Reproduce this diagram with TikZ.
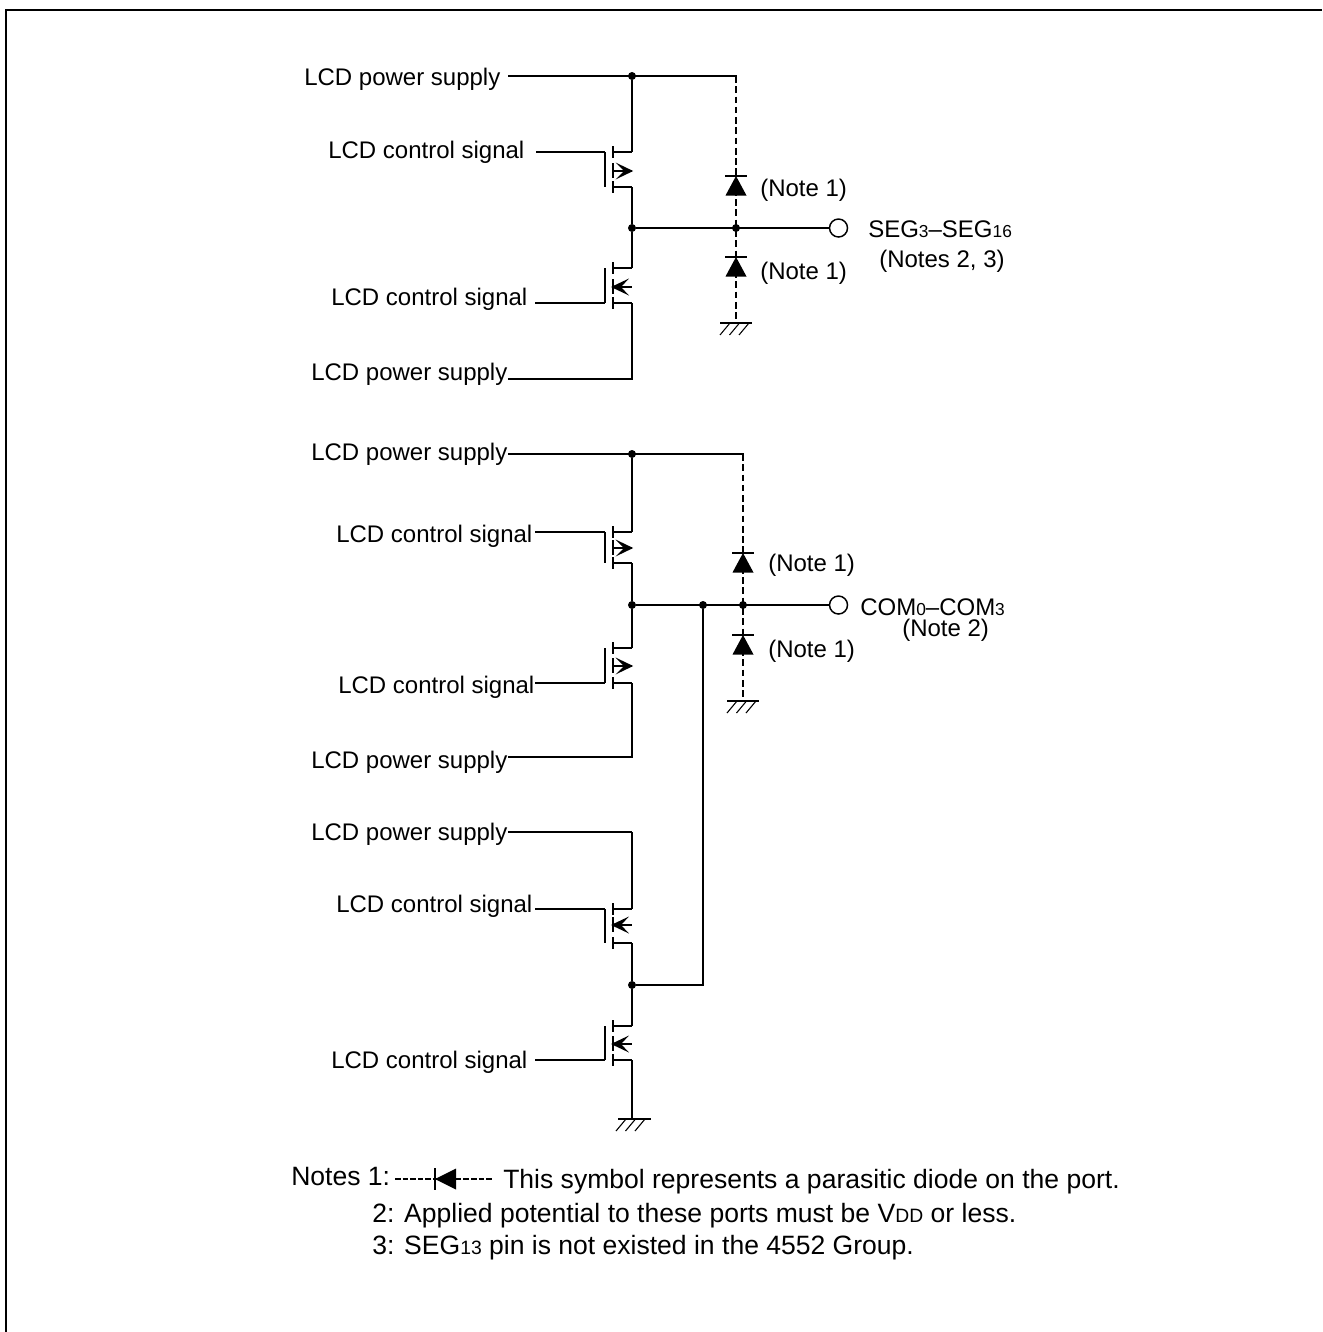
\documentclass[tikz,border=0pt]{standalone}
\usepackage{fontspec}
\setmainfont{Liberation Sans}
\newcommand{\smsub}[1]{{\fontsize{13pt}{15pt}\selectfont #1}}
\newcommand{\smnote}[1]{{\fontsize{14.5pt}{16pt}\selectfont #1}}
\tikzset{
  x=0.75pt,y=-0.75pt,
  wire/.style={line width=1.45pt,line cap=butt},
  dwire/.style={line width=1.2pt,dash pattern=on 5pt off 2.7pt},
  lbl/.style={inner sep=0pt,anchor=west,font=\fontsize{18pt}{21pt}\selectfont,text=black},
  note/.style={inner sep=0pt,anchor=base west,font=\fontsize{19.9pt}{23pt}\selectfont,text=black},
  junction/.style={circle,fill=black,inner sep=0pt,minimum size=6pt},
  pad/.style={circle,draw=black,fill=white,line width=1.1pt,inner sep=0pt,minimum size=13.5pt},
  frame/.style={line width=2.1pt}
}
\newcommand{\fet}[9]{
  \coordinate (#1g) at (#9,#2);
  \coordinate (#1gc) at (605,#2);
  \coordinate (#1bt) at (605,#6);
  \coordinate (#1bb) at (605,#7);
  \coordinate (#1d) at (632,#3);
  \coordinate (#1s) at (632,#5);
  \coordinate (#1m) at (632,#4);
  \draw[wire] (#1g) -- (#1gc);
  \draw[wire] (#1bt) -- (#1bb);
  \draw[wire] (613,#3-6) -- (613,#3+6);
  \draw[wire] (613,#4-8) -- (613,#4+7);
  \draw[wire] (613,#5-6) -- (613,#5+6);
  \draw[wire] (613,#3) -- (#1d);
  \draw[wire] (613,#5) -- (#1s);
  \draw[wire] (613,#4) -- (#1m);
  \ifx l#8
    \fill[black] (611,#4) -- (629,#4-8.5) -- (621,#4) -- (629,#4+8.5) -- cycle;
  \else
    \fill[black] (633.2,#4) -- (615.5,#4-8.5) -- (624,#4) -- (615.5,#4+8.5) -- cycle;
  \fi
}
\newcommand{\diodeup}[2]{
  \fill[black] (#1,#2) -- (#1-10.5,#2+19.5) -- (#1+10.5,#2+19.5) -- cycle;
  \draw[wire] (#1-11,#2) -- (#1+11,#2);
}
\newcommand{\gnd}[4]{
  \draw[wire] (#3,#2) -- (#4,#2);
  \draw[line width=0.8pt] (#1-6,#2) -- (#1-16,#2+12);
  \draw[line width=0.8pt] (#1+3.5,#2) -- (#1-6.5,#2+12);
  \draw[line width=0.8pt] (#1+13,#2) -- (#1+3,#2+12);
}
\begin{document}
\begin{tikzpicture}
\useasboundingbox (0,0) rectangle (1322,1332);
\draw[frame] (6,1332) -- (6,10) -- (1322,10);

% ===== labels
\node[lbl] (l1) at (304,79.5) {LCD power supply};
\node[lbl] (l2) at (328,152) {LCD control signal};
\node[lbl] (l3) at (331,299.5) {LCD control signal};
\node[lbl] (l4) at (311,374.5) {LCD power supply};
\node[lbl] (l5) at (311,454.5) {LCD power supply};
\node[lbl] (l6) at (336,536.5) {LCD control signal};
\node[lbl] (l7) at (338,687.5) {LCD control signal};
\node[lbl] (l8) at (311,762.5) {LCD power supply};
\node[lbl] (l9) at (311,834.5) {LCD power supply};
\node[lbl] (l10) at (336,906.5) {LCD control signal};
\node[lbl] (l11) at (331,1062.5) {LCD control signal};

% ===== upper section
\coordinate (a0) at (508,76);
\node[junction] (aj) at (632,76) {};
\coordinate (ar) at (737,76);
\coordinate (ad) at (736,76);
\node[junction] (am) at (632,228) {};
\node[junction] (ak) at (736,228) {};
\node[pad] (ap) at (838.5,228) {};
\coordinate (ag) at (736,323);
\coordinate (ab) at (632,379);
\coordinate (ab0) at (508,379);
\draw[wire] (a0) -- (ar);
\fet{t}{152}{152}{171}{187}{152}{187}{r}{536}
\draw[wire] (aj) -- (td);
\draw[wire] (ts) -- (am);
\draw[wire] (am) -- (ap);
\fet{u}{303}{268}{287}{303}{268}{303}{l}{535}
\draw[wire] (am) -- (ud);
\draw[wire] (us) -- (ab) -- (ab0);
\draw[dwire] (ad) -- (ag);
\diodeup{736}{176}
\diodeup{736}{257}
\gnd{736}{323}{720}{752}
\node[lbl] (n1) at (760,190) {(Note 1)};
\node[lbl] (n2) at (760,273) {(Note 1)};
\node[lbl] (s1) at (868,229) {SEG\smsub{3}--SEG\smsub{16}};
\node[lbl] (s2) at (879,261) {(Notes 2, 3)};

% ===== middle section
\coordinate (b0) at (508,454);
\node[junction] (bj) at (632,454) {};
\coordinate (br) at (744,454);
\coordinate (bd) at (743,454);
\node[junction] (bm) at (632,605) {};
\node[junction] (bt) at (703,605) {};
\node[junction] (bk) at (743,605) {};
\node[pad] (bp) at (838.5,605) {};
\coordinate (bg) at (743,701);
\coordinate (bb) at (632,757);
\coordinate (bb0) at (508,757);
\draw[wire] (b0) -- (br);
\fet{v}{532}{532}{548}{563}{532}{563}{r}{535}
\draw[wire] (bj) -- (vd);
\draw[wire] (vs) -- (bm);
\draw[wire] (bm) -- (bp);
\fet{w}{683}{648}{666}{683}{648}{683}{r}{535}
\draw[wire] (bm) -- (wd);
\draw[wire] (ws) -- (bb) -- (bb0);
\draw[dwire] (bd) -- (bg);
\diodeup{743}{553}
\diodeup{743}{635}
\gnd{743}{701}{727}{759}
\node[lbl] (n3) at (768,565.5) {(Note 1)};
\node[lbl] (n4) at (768,651) {(Note 1)};
\node[lbl] (c1) at (860,607) {COM\smsub{0}--COM\smsub{3}};
\node[lbl] (c2) at (902,630.5) {(Note 2)};

% ===== lower section
\coordinate (c0) at (508,832);
\coordinate (cc) at (632,832);
\node[junction] (cj) at (632,985) {};
\coordinate (ct) at (703,985);
\coordinate (cg) at (632,1119);
\draw[wire] (c0) -- (cc);
\fet{x}{909}{909}{925}{943}{909}{943}{l}{535}
\draw[wire] (cc) -- (xd);
\draw[wire] (xs) -- (cj);
\draw[wire] (bt) -- (ct) -- (cj);
\fet{y}{1060}{1026}{1044}{1060}{1026}{1060}{l}{535}
\draw[wire] (cj) -- (yd);
\draw[wire] (ys) -- (cg);
\gnd{632}{1119}{618}{651}

% ===== notes
\node[note] (m1) at (291,1185) {Notes 1:};
\coordinate (da) at (395,1179);
\coordinate (db) at (493,1179);
\draw[line width=0.8pt,dash pattern=on 4.2pt off 1.5pt] (da) -- (db);
\fill[black] (435,1179) -- (456,1168.5) -- (456,1189.5) -- cycle;
\draw[wire] (435,1168) -- (435,1190);
\node[note] (m2) at (503,1188) {This symbol represents a parasitic diode on the port.};
\node[note] (m3) at (372,1222) {2: Applied potential to these ports must be V\smnote{DD} or less.};
\node[note] (m4) at (372,1254) {3: SEG\smnote{13} pin is not existed in the 4552 Group.};
\end{tikzpicture}
\end{document}
